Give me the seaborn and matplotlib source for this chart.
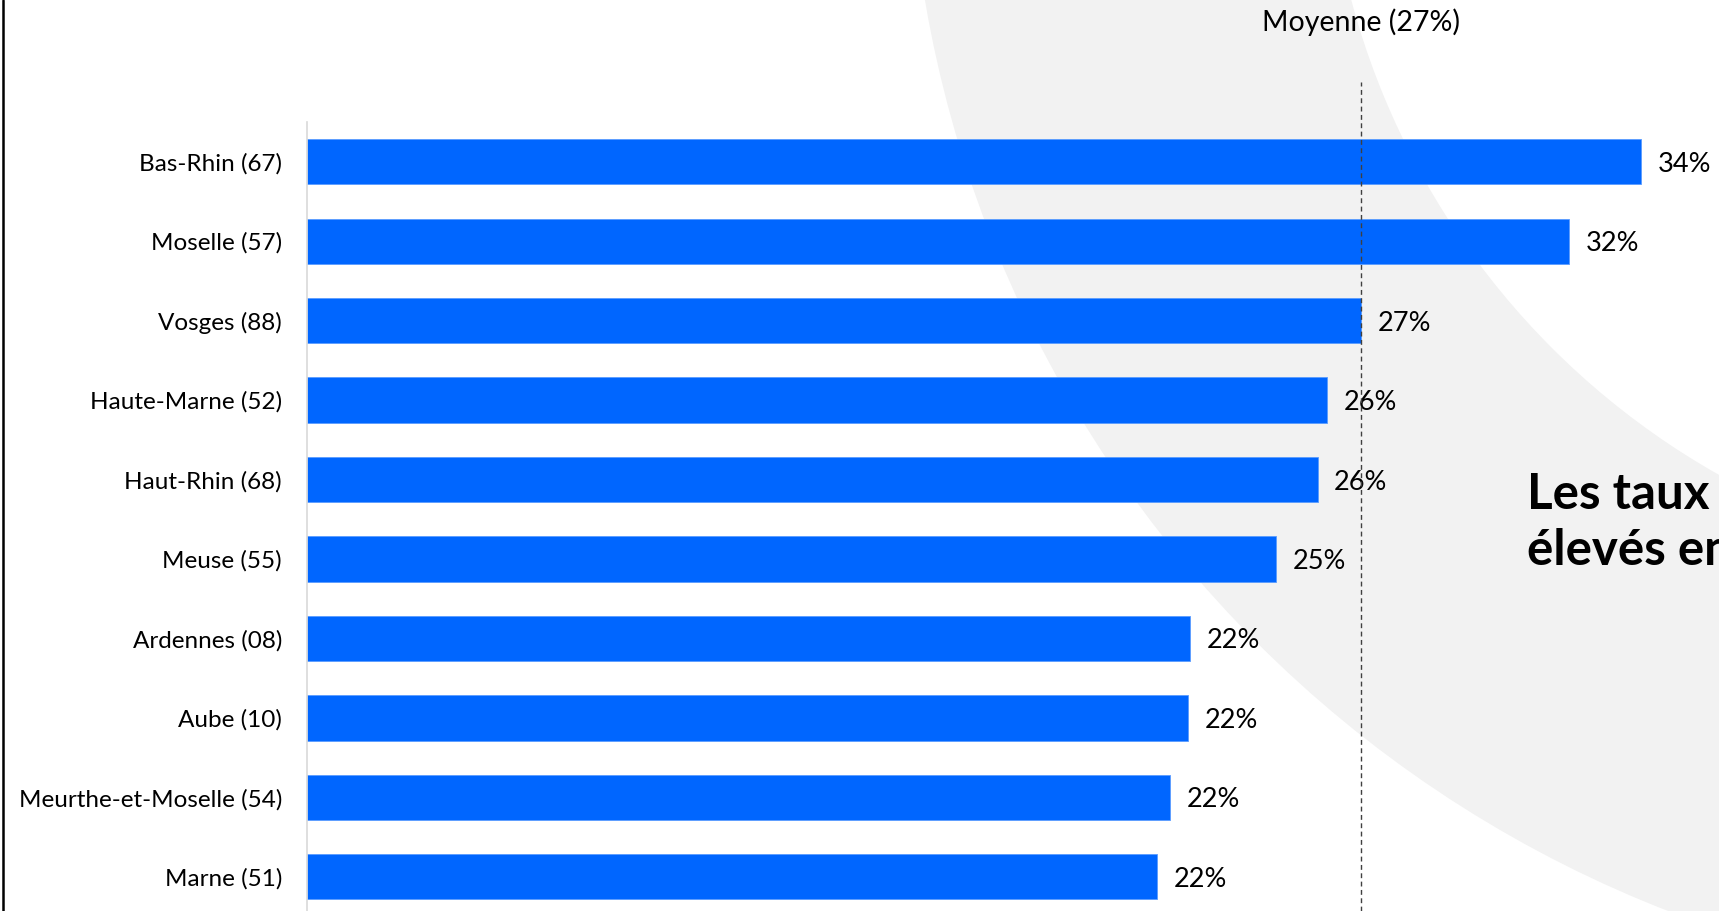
import matplotlib
matplotlib.use("Agg")
import matplotlib.pyplot as plt
from matplotlib.patches import Wedge
from matplotlib.lines import Line2D
import pandas as pd
import seaborn as sns

# ── Data ──────────────────────────────────────────────────────────────────
departements = [
    "Bas-Rhin (67)", "Moselle (57)", "Vosges (88)", "Haute-Marne (52)",
    "Haut-Rhin (68)", "Meuse (55)", "Ardennes (08)", "Aube (10)",
    "Meurthe-et-Moselle (54)", "Marne (51)",
]
taux = [34.0, 32.15, 26.85, 26.0, 25.75, 24.7, 22.5, 22.45, 22.0, 21.65]
taux_labels = ["34%", "32%", "27%", "26%", "26%", "25%", "22%", "22%", "22%", "22%"]
moyenne = 26.85
moyenne_label = "Moyenne (27%)"
message = ["Les taux", "élevés en"]

BLUE = "#0066ff"
W, H = 1719, 911

sns.set_style("white")
plt.rcParams["font.family"] = ["Lato", "DejaVu Sans"]
plt.rcParams.update({
    "text.color": "black",
    "axes.labelcolor": "black",
    "xtick.color": "black",
    "ytick.color": "black",
})

fig = plt.figure(figsize=(W / 100, H / 100), dpi=100)

# background decoration: grey curved band
bg = fig.add_axes([0, 0, 1, 1], zorder=0)
bg.set_xlim(0, W)
bg.set_ylim(H, 0)
bg.axis("off")
bg.add_patch(Wedge((2100, -200), 1192, 0, 360, width=417, color="#f2f2f2", lw=0))

# main chart
left = 307 / W
top = 122 / H
ax = fig.add_axes([left, 0, 1 - left, 1 - top], zorder=1)
ax.set_facecolor("none")

df = pd.DataFrame({"dep": departements, "taux": taux})
sns.barplot(data=df, x="taux", y="dep", orient="h", color=BLUE, width=0.57,
            saturation=1, edgecolor="#5a9cff", linewidth=0.6, ax=ax)

value_texts = ax.bar_label(ax.containers[0], labels=taux_labels, padding=12,
                           fontsize=19.5)
for t in value_texts:
    t.set_verticalalignment("center_baseline")

ax.set_xlim(0, 35.98)
ax.set_ylim(9.43, -0.5)
ax.set_xlabel("")
ax.set_ylabel("")
ax.set_xticks([])
ax.tick_params(axis="y", length=0, pad=18, labelsize=17.5)
for s in ["top", "right", "bottom"]:
    ax.spines[s].set_visible(False)
ax.spines["left"].set_color("#d9d9d9")
ax.spines["left"].set_linewidth(1.2)

# average line
ymax = (H - 82) / (H - 122)
ax.axvline(moyenne, ymin=0, ymax=ymax, color="#404040", lw=1,
           dashes=(3.5, 2.5), clip_on=False, zorder=3)
ax.text(moyenne, (H - 22) / (H - 122), moyenne_label,
        transform=ax.get_xaxis_transform(), ha="center", va="center",
        fontsize=20.5)

# headline on the right (cut by the slide edge, as in the source)
fig.text(1527 / W, 1 - 509 / H, message[0], fontsize=35.5, fontweight="bold",
         va="baseline", ha="left")
fig.text(1527 / W, 1 - 565 / H, message[1], fontsize=35.5, fontweight="bold",
         va="baseline", ha="left")

# slide frame on the left
fig.add_artist(Line2D([3 / W, 3 / W], [0, 1], color="black", lw=1.8,
                      transform=fig.transFigure))

fig.savefig("out.png", dpi=100)
